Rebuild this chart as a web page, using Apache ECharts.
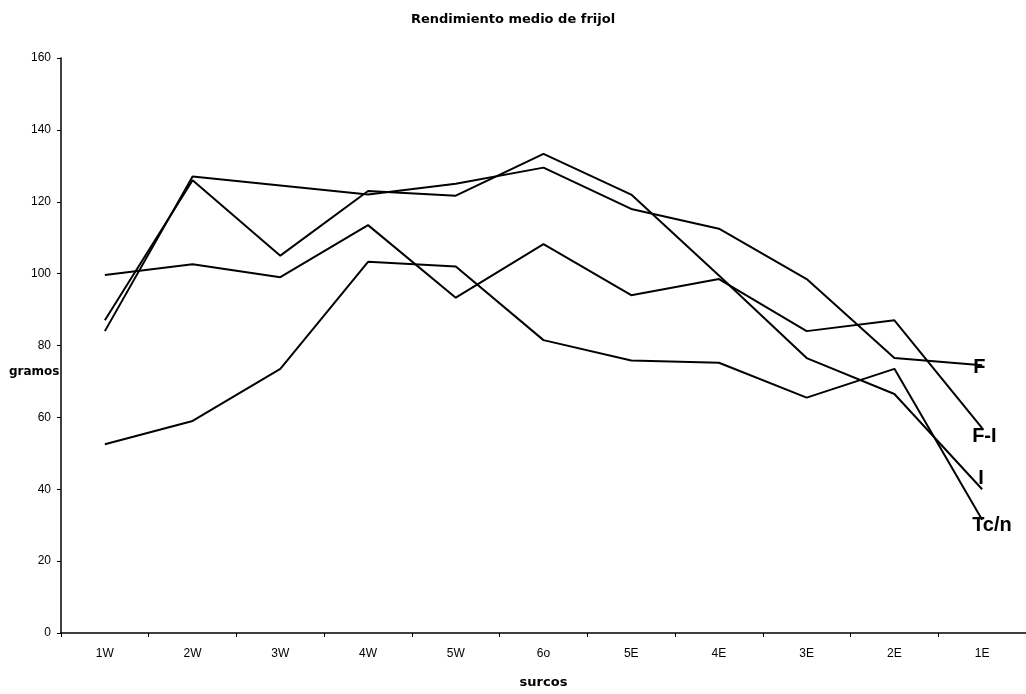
<!DOCTYPE html>
<html>
<head>
<meta charset="utf-8">
<script src="https://cdn.jsdelivr.net/npm/echarts@6/dist/echarts.min.js"></script>
<style>html,body{margin:0;padding:0;background:#fff;overflow:hidden}#c{width:1026px;height:694px}</style>
</head>
<body>
<div id="c"></div>
<script>
var categories = ['1W','2W','3W','4W','5W','6o','5E','4E','3E','2E','1E'];
var serieF   = [84, 127, 124.5, 122, 125, 129.5, 118, 112.5, 98.5, 76.5, 74.5];
var serieFI  = [99.6, 102.6, 99, 113.5, 93.3, 108.2, 94, 98.5, 84, 87, 57];
var serieI   = [87, 126, 105, 123, 121.7, 133.3, 122, 99.5, 76.5, 66.5, 40];
var serieTcn = [52.5, 59, 73.5, 103.3, 102, 81.5, 75.8, 75.2, 65.5, 73.5, 31.5];
var yTicks = [0, 20, 40, 60, 80, 100, 120, 140, 160];

var font = 'Liberation Sans, Arial, sans-serif';
var wide = 'DejaVu Sans, sans-serif';
function mk(name, data, off) {
  return {
    name: name, type: 'line', data: data, symbol: 'none',
    lineStyle: {color: '#000', width: 2},
    endLabel: {show: true, formatter: name, color: '#000', fontFamily: font,
      fontSize: 20, fontWeight: 'bold', offset: off, distance: 0},
    emphasis: {disabled: true}
  };
}
var chart = echarts.init(document.getElementById('c'));
chart.setOption({
  animation: false,
  backgroundColor: '#fff',
  title: {text: 'Rendimiento medio de frijol', left: 'center', top: 8,
    textStyle: {fontFamily: wide, fontSize: 13, fontWeight: 'bold', color: '#000'}},
  grid: {left: 61, right: -3, top: 58, bottom: 57},
  xAxis: {
    type: 'category', data: categories, boundaryGap: true,
    name: 'surcos', nameLocation: 'middle', nameGap: 43,
    nameTextStyle: {fontFamily: wide, fontSize: 13, fontWeight: 'bold', color: '#000'},
    axisLine: {lineStyle: {color: '#000', width: 1.5}},
    axisTick: {show: true, length: 4, lineStyle: {color: '#000'}},
    axisLabel: {fontFamily: font, fontSize: 12, color: '#000', margin: 15},
    splitLine: {show: false}
  },
  yAxis: {
    type: 'value', min: yTicks[0], max: yTicks[yTicks.length - 1], interval: 20,
    axisLine: {show: true, lineStyle: {color: '#000', width: 1.5}},
    axisTick: {show: true, length: 4, lineStyle: {color: '#000'}},
    axisLabel: {fontFamily: font, fontSize: 12, color: '#000', margin: 10},
    splitLine: {show: false}
  },
  graphic: [{type: 'text', left: 9, top: 366,
    style: {text: 'gramos', font: 'bold 12px ' + wide, fill: '#000'}}],
  series: [
    mk('F', serieF, [-9, 2]),
    mk('F-I', serieFI, [-10, 8]),
    mk('I', serieI, [-4, -11]),
    mk('Tc/n', serieTcn, [-10, 6])
  ]
});
</script>
</body>
</html>
